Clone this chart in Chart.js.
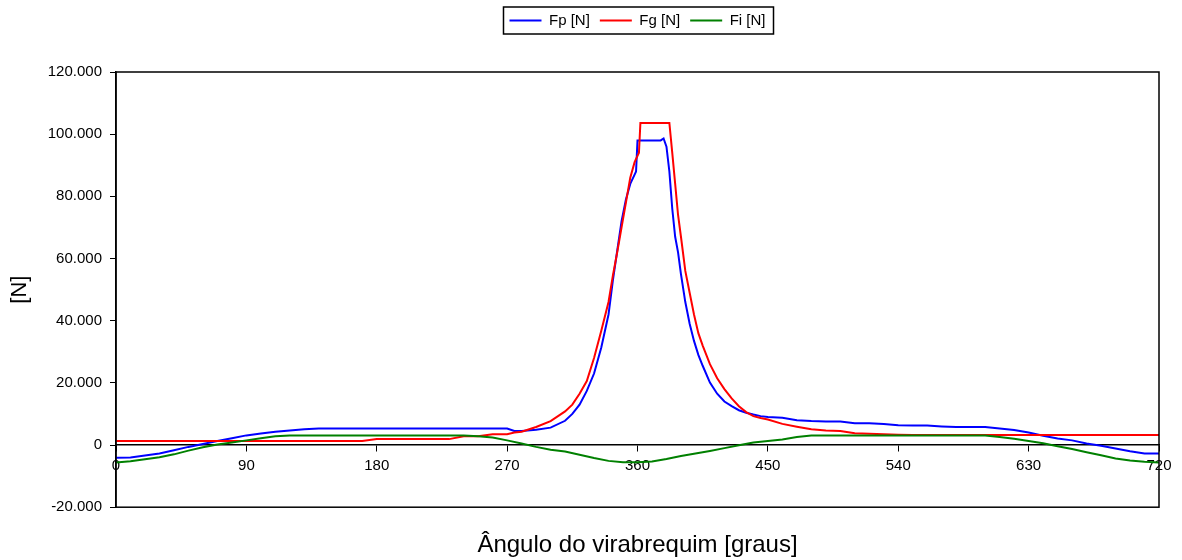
<!DOCTYPE html>
<html>
<head>
<meta charset="utf-8">
<script src="https://cdn.jsdelivr.net/npm/chart.js@4.4.1/dist/chart.umd.min.js"></script>
<style>
  body { margin: 0; background: #fff; }
</style>
</head>
<body>
<canvas id="myChart" width="1182" height="560"></canvas>
<script>
// ângulo do virabrequim [graus] para Fp e Fg
var angulos = [0,10,20,30,40,50,60,70,80,90,100,110,120,130,140,150,160,170,180,190,200,210,220,230,240,250,260,270,
  275,280,290,300,310,315,320,325,330,335,340,343,346,349,352,355,358,359,360,361,362,
  370,376,378,380,382,384,386,388,390,393,396,399,402,405,410,415,420,425,430,435,440,445,450,
  460,470,480,490,500,510,520,530,540,550,560,570,580,590,600,610,620,630,640,650,660,670,680,690,700,710,720];

var fp = [-4100,-4000,-3400,-2700,-1700,-600,300,1300,2200,3100,3700,4300,4700,5100,5300,5300,5300,5300,5300,5300,5300,5300,5300,5300,5300,5300,5300,5300,
  4500,4500,4900,5600,7800,10000,13000,17400,23000,31400,42000,53000,62500,72000,79000,84000,87000,88000,98000,98000,98000,
  98000,98000,98600,96000,88000,76000,67000,62000,55000,46000,39000,33500,29000,25500,20100,16500,14000,12500,11200,10400,9800,9300,9000,
  8800,8000,7700,7600,7600,7000,7000,6800,6400,6300,6300,6000,5800,5800,5800,5300,4800,4000,3000,2100,1500,500,-200,-1100,-2000,-2700,-2700];

var fg = [1300,1300,1300,1300,1300,1300,1300,1300,1300,1300,1300,1300,1300,1300,1300,1300,1300,1300,1900,1900,1900,1900,1900,1900,2800,2800,3500,3500,
  4000,4300,5800,7700,10800,13000,16500,20600,28000,36800,46000,54500,62000,70000,78000,86000,91000,92000,93000,94000,103600,
  103600,103600,103600,103600,103600,94000,84000,74000,67000,56000,49000,42000,36000,32000,26000,21500,18000,15000,12500,10600,9300,8700,8200,
  6800,5900,5100,4700,4500,3800,3600,3500,3300,3200,3200,3200,3200,3200,3200,3200,3200,3200,3200,3200,3200,3200,3200,3200,3200,3200,3200];

// Fi lido a cada 10 graus
var angulosFi = [];
for (var a = 0; a <= 720; a += 10) angulosFi.push(a);
var fi = [-5600,-5200,-4600,-3900,-3000,-1800,-700,200,800,1500,2200,2800,3100,3100,3100,3100,3100,3100,3100,3100,3100,3100,3100,3100,3100,
  2800,2400,1500,500,-600,-1500,-2100,-3100,-4200,-5100,-5500,-5500,-5300,-4500,-3500,-2700,-1900,-1000,-100,800,1300,1800,2600,
  3100,3100,3100,3100,3100,3100,3100,3100,3100,3100,3100,3100,3100,
  2600,2000,1300,600,-400,-1300,-2300,-3300,-4300,-5000,-5400,-5600];

var rotulos = ['Fp [N]', 'Fg [N]', 'Fi [N]'];
var cores = ['#0000ff', '#ff0000', '#008000'];

function pontos(xs, ys) {
  var out = [];
  for (var i = 0; i < xs.length; i++) out.push({x: xs[i], y: ys[i]});
  return out;
}

function milhar(v) {//formato 120.000
  var s = String(Math.abs(v)).replace(/\B(?=(\d{3})+(?!\d))/g, '.');
  return (v < 0 ? '-' : '') + s;
}

var fonte = "'Liberation Sans', Arial, sans-serif";

var moldura = {//caixa da área do gráfico e da legenda
  id: 'moldura',
  afterDatasetsDraw: function(chart) {
    var ctx = chart.ctx;
    var a = chart.chartArea;
    ctx.save();
    ctx.strokeStyle = '#000';
    ctx.lineWidth = 1.5;
    ctx.strokeRect(a.left, a.top, a.right - a.left, a.bottom - a.top);
    var hb = chart.legend.legendHitBoxes;
    if (hb && hb.length) {
      var l = hb[0].left, r = hb[hb.length - 1].left + hb[hb.length - 1].width;
      var t = hb[0].top;
      ctx.strokeRect(l - 6, t - 6, r - l + 14, hb[0].height + 12);
    }
    ctx.restore();
  }
};

var ctx = document.getElementById('myChart').getContext('2d');
var myChart = new Chart(ctx, {
  type: 'line',
  data: {
    datasets: [
      {label: rotulos[0], data: pontos(angulos, fp), borderColor: cores[0], backgroundColor: cores[0], borderWidth: 2, order: 3},
      {label: rotulos[1], data: pontos(angulos, fg), borderColor: cores[1], backgroundColor: cores[1], borderWidth: 2, order: 2},
      {label: rotulos[2], data: pontos(angulosFi, fi), borderColor: cores[2], backgroundColor: cores[2], borderWidth: 2, order: 1}
    ]
  },
  options: {
    responsive: false,
    animation: false,
    layout: {padding: {top: 3, left: 0, right: 23, bottom: 0}},
    elements: {
      point: {radius: 0},
      line: {borderWidth: 2, tension: 0, fill: false}
    },
    scales: {
      x: {
        type: 'linear',
        min: 0,
        max: 720,
        position: {y: 0},
        grid: {drawOnChartArea: false, drawTicks: true, tickLength: 6, color: '#000'},
        border: {display: true, color: '#000', width: 1.5},
        ticks: {stepSize: 90, color: '#000', padding: 6, maxRotation: 0, font: {family: fonte, size: 15}}
      },
      y: {
        min: -20000,
        max: 120000,
        afterFit: function(scale) { scale.width = 116; },
        grid: {drawOnChartArea: false, drawTicks: true, tickLength: 6, color: '#000'},
        border: {display: true, color: '#000', width: 1.5},
        ticks: {stepSize: 20000, color: '#000', padding: 8, font: {family: fonte, size: 15},
          callback: function(v) { return milhar(v); }},
        title: {display: true, text: '[N]', color: '#000', padding: {top: 7, bottom: 0}, font: {family: fonte, size: 22}}
      }
    },
    plugins: {
      legend: {
        position: 'top',
        fullSize: false,
        labels: {
          usePointStyle: true,
          pointStyle: 'line',
          pointStyleWidth: 32,
          color: '#000',
          padding: 10,
          font: {family: fonte, size: 15},
          sort: function(a, b) { return a.datasetIndex - b.datasetIndex; }
        }
      },
      subtitle: {//só espaço entre legenda e gráfico
        display: true,
        text: '',
        weight: 500,
        padding: {top: 24, bottom: 0},
        font: {size: 10, lineHeight: 1}
      },
      title: {
        display: true,
        position: 'bottom',
        fullSize: false,
        text: 'Ângulo do virabrequim [graus]',
        color: '#000',
        padding: {top: 24, bottom: 0},
        font: {family: fonte, size: 24, weight: 'normal'}
      },
      tooltip: {enabled: false}
    }
  },
  plugins: [moldura]
});
</script>
</body>
</html>
